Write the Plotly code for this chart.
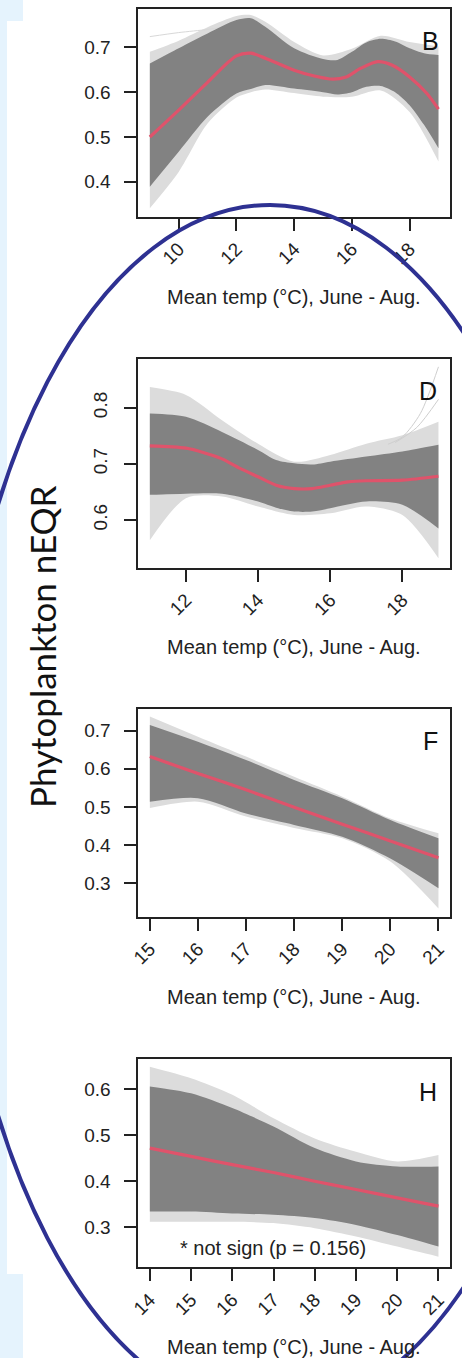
import plotly.graph_objects as go

W, H = 462, 1358

# ---------------- data ----------------
# Panel B
B_red_x = [9, 10, 11, 12, 12.5, 13, 14, 14.7, 15.35, 15.8, 16.3, 16.9, 17.4, 18, 18.6, 19]
B_red_y = [0.500, 0.560, 0.622, 0.681, 0.687, 0.676, 0.649, 0.636, 0.629, 0.634, 0.653, 0.668, 0.660, 0.634, 0.597, 0.562]
B_core_x = [9, 10, 11, 12, 12.5, 13, 14, 15, 15.5, 16, 16.5, 17, 17.5, 18, 18.5, 19]
B_core_hi = [0.664, 0.698, 0.731, 0.761, 0.765, 0.746, 0.698, 0.674, 0.672, 0.690, 0.711, 0.719, 0.713, 0.698, 0.687, 0.683]
B_core_lo = [0.389, 0.467, 0.545, 0.597, 0.607, 0.616, 0.608, 0.600, 0.595, 0.600, 0.612, 0.614, 0.600, 0.571, 0.527, 0.475]
B_fr_x = [9, 10, 11, 12, 12.5, 13, 14, 15, 16, 17, 18, 19]
B_fr_hi = [0.690, 0.715, 0.745, 0.770, 0.772, 0.757, 0.712, 0.682, 0.697, 0.726, 0.712, 0.702]
B_fr_lo = [0.341, 0.422, 0.530, 0.588, 0.600, 0.606, 0.598, 0.590, 0.590, 0.604, 0.556, 0.445]
B_out_x = [9, 10, 11, 11.5]
B_out_y = [0.724, 0.733, 0.740, 0.745]

# Panel D
D_red_x = [11, 12, 12.5, 13, 13.5, 14, 14.5, 15, 15.5, 16, 16.5, 17, 18, 19]
D_red_y = [0.732, 0.728, 0.720, 0.709, 0.692, 0.677, 0.662, 0.656, 0.656, 0.662, 0.668, 0.670, 0.671, 0.678]
D_core_x = [11, 12, 13, 14, 14.5, 15, 15.5, 16, 17, 18, 19]
D_core_hi = [0.790, 0.784, 0.757, 0.725, 0.707, 0.701, 0.699, 0.704, 0.713, 0.722, 0.734]
D_core_lo = [0.645, 0.647, 0.647, 0.633, 0.622, 0.615, 0.615, 0.621, 0.633, 0.627, 0.585]
D_fr_x = [11, 12, 13, 14, 15, 16, 17, 18, 19]
D_fr_hi = [0.837, 0.823, 0.778, 0.736, 0.704, 0.716, 0.736, 0.751, 0.775]
D_fr_lo = [0.564, 0.639, 0.642, 0.624, 0.609, 0.612, 0.624, 0.609, 0.532]
D_out1_x = [17.6, 18, 18.5, 19]
D_out1_y = [0.735, 0.748, 0.790, 0.873]
D_out2_x = [17.8, 18.4, 19]
D_out2_y = [0.738, 0.765, 0.815]

# Panel F
F_x = [15, 16, 17, 18, 19, 20, 21]
F_red = [0.632, 0.588, 0.545, 0.499, 0.455, 0.411, 0.367]
F_core_hi = [0.715, 0.671, 0.623, 0.571, 0.523, 0.466, 0.418]
F_core_lo = [0.514, 0.523, 0.483, 0.453, 0.422, 0.365, 0.287]
F_fr_hi = [0.737, 0.684, 0.632, 0.579, 0.527, 0.470, 0.431]
F_fr_lo = [0.497, 0.514, 0.475, 0.445, 0.418, 0.357, 0.234]

# Panel H
H_x = [14, 15, 16, 17, 18, 19, 20, 21]
H_red = [0.472, 0.454, 0.436, 0.419, 0.400, 0.382, 0.364, 0.346]
H_core_hi = [0.606, 0.591, 0.559, 0.519, 0.472, 0.443, 0.432, 0.432]
H_core_lo = [0.334, 0.334, 0.330, 0.327, 0.320, 0.305, 0.283, 0.258]
H_fr_hi = [0.649, 0.624, 0.588, 0.537, 0.493, 0.464, 0.443, 0.457]
H_fr_lo = [0.312, 0.312, 0.312, 0.309, 0.298, 0.280, 0.258, 0.236]

# ticks
B_xticks = [10, 12, 14, 16, 18]
D_xticks = [12, 14, 16, 18]
F_xticks = [15, 16, 17, 18, 19, 20, 21]
H_xticks = [14, 15, 16, 17, 18, 19, 20, 21]
B_yticks = [0.4, 0.5, 0.6, 0.7]
D_yticks = [0.6, 0.7, 0.8]
F_yticks = [0.3, 0.4, 0.5, 0.6, 0.7]
H_yticks = [0.3, 0.4, 0.5, 0.6]

panel_letters = ["B", "D", "F", "H"]
xtitle = "Mean temp (°C), June - Aug."
ytitle = "Phytoplankton nEQR"
note = "* not sign (p = 0.156)"

# ---------------- styling / layout ----------------
RED = "#DF536B"
CORE = "#828282"
FRINGE = "#dcdcdc"
AX = "#222222"
FONT = "Liberation Sans, Arial, sans-serif"

box_left, box_right = 138.3, 450.0
boxes = [(9.3, 216.7), (359.0, 567.7), (709.3, 916.7), (1059.3, 1267.3)]
xranges = [[8.6, 19.4], [10.68, 19.32], [14.76, 21.24], [13.72, 21.28]]
yranges = [[0.322, 0.785], [0.515, 0.887], [0.2124, 0.756], [0.213, 0.665]]

def px(x):
    return x / W

def py(y):
    return 1 - y / H

fig = go.Figure()

def band(xs, hi, lo, color, i):
    xa, ya = ("x" if i == 1 else f"x{i}"), ("y" if i == 1 else f"y{i}")
    fig.add_trace(go.Scatter(x=xs, y=hi, mode="lines", line=dict(width=0, shape="spline", smoothing=0.8),
                             hoverinfo="skip", showlegend=False, xaxis=xa, yaxis=ya))
    fig.add_trace(go.Scatter(x=xs, y=lo, mode="lines", line=dict(width=0, shape="spline", smoothing=0.8),
                             fill="tonexty", fillcolor=color, hoverinfo="skip", showlegend=False,
                             xaxis=xa, yaxis=ya))

def line(xs, ys, color, width, i):
    xa, ya = ("x" if i == 1 else f"x{i}"), ("y" if i == 1 else f"y{i}")
    fig.add_trace(go.Scatter(x=xs, y=ys, mode="lines",
                             line=dict(color=color, width=width, shape="spline", smoothing=0.8),
                             hoverinfo="skip", showlegend=False, xaxis=xa, yaxis=ya))

# B
band(B_fr_x, B_fr_hi, B_fr_lo, FRINGE, 1)
line(B_out_x, B_out_y, "#d8d8d8", 1, 1)
band(B_core_x, B_core_hi, B_core_lo, CORE, 1)
line(B_red_x, B_red_y, RED, 3.2, 1)
# D
band(D_fr_x, D_fr_hi, D_fr_lo, FRINGE, 2)
line(D_out1_x, D_out1_y, "#cfcfcf", 1, 2)
line(D_out2_x, D_out2_y, "#cfcfcf", 1, 2)
band(D_core_x, D_core_hi, D_core_lo, CORE, 2)
line(D_red_x, D_red_y, RED, 3.2, 2)
# F
band(F_x, F_fr_hi, F_fr_lo, FRINGE, 3)
band(F_x, F_core_hi, F_core_lo, CORE, 3)
line(F_x, F_red, RED, 3.2, 3)
# H
band(H_x, H_fr_hi, H_fr_lo, FRINGE, 4)
band(H_x, H_core_hi, H_core_lo, CORE, 4)
line(H_x, H_red, RED, 3.2, 4)

xticks = [B_xticks, D_xticks, F_xticks, H_xticks]
yticks = [B_yticks, D_yticks, F_yticks, H_yticks]

layout = dict(
    template="none",
    width=W, height=H, margin=dict(l=0, r=0, t=0, b=0, pad=0, autoexpand=False),
    paper_bgcolor="white", plot_bgcolor="white", showlegend=False,
    font=dict(family=FONT, color=AX),
)
for i in range(4):
    n = i + 1
    top, bot = boxes[i]
    xk = "xaxis" if n == 1 else f"xaxis{n}"
    yk = "yaxis" if n == 1 else f"yaxis{n}"
    common = dict(showgrid=False, zeroline=False, showline=True, mirror=True, automargin=False,
                  linecolor=AX, linewidth=1.8, ticks="outside", ticklen=12,
                  tickwidth=1.5, tickcolor=AX,
                  tickfont=dict(family=FONT, size=19, color=AX))
    layout[xk] = dict(common, domain=[px(box_left), px(box_right)], range=xranges[i],
                      tickvals=xticks[i], ticktext=[str(v) for v in xticks[i]],
                      tickangle=-45, anchor="y" if n == 1 else f"y{n}")
    layout[yk] = dict(common, domain=[py(bot), py(top)], range=yranges[i],
                      tickvals=yticks[i], ticktext=[f"{v:.1f}" for v in yticks[i]],
                      tickangle=-90 if n == 2 else 0,
                      ticklabelstandoff=10,
                      anchor="x" if n == 1 else f"x{n}")
fig.update_layout(**layout)

annotations = []
letter_pos = [(430, 41), (428, 391), (430, 741), (428, 1092)]
for (lx, ly), t in zip(letter_pos, panel_letters):
    annotations.append(dict(x=px(lx), y=py(ly), xref="paper", yref="paper", text=t, showarrow=False,
                            xanchor="center", yanchor="middle",
                            font=dict(family=FONT, size=25, color="#111")))
for ty in [297, 647, 997, 1347]:
    annotations.append(dict(x=px(294), y=py(ty), xref="paper", yref="paper", text=xtitle, showarrow=False,
                            xanchor="center", yanchor="middle",
                            font=dict(family=FONT, size=20, color=AX)))
annotations.append(dict(x=px(273), y=py(1248), xref="paper", yref="paper", text=note, showarrow=False,
                        xanchor="center", yanchor="middle", font=dict(family=FONT, size=20, color=AX)))
annotations.append(dict(x=px(42), y=py(647), xref="paper", yref="paper", text=ytitle, showarrow=False,
                        textangle=-90, xanchor="center", yanchor="middle",
                        font=dict(family="Lato, Noto Sans, sans-serif", size=35, color="#111")))

LB = "#E5F3FD"
shapes = [
    dict(type="rect", xref="paper", yref="paper", x0=0, x1=px(7), y0=0, y1=1,
         fillcolor=LB, line=dict(width=0), layer="below"),
    dict(type="rect", xref="paper", yref="paper", x0=0, x1=px(23), y0=py(21), y1=1,
         fillcolor=LB, line=dict(width=0), layer="below"),
    dict(type="rect", xref="paper", yref="paper", x0=0, x1=px(23), y0=0, y1=py(1274),
         fillcolor=LB, line=dict(width=0), layer="below"),
    dict(type="circle", xref="paper", yref="paper",
         x0=px(270 - 315), x1=px(270 + 315), y0=py(810 + 605), y1=py(810 - 605),
         line=dict(color="#2E3192", width=4), fillcolor="rgba(0,0,0,0)", layer="above"),
]
fig.update_layout(annotations=annotations, shapes=shapes)

fig.write_html(
    "out.html",
    config={"displayModeBar": False},
    post_script=(
        "document.documentElement.style.margin='0';document.documentElement.style.padding='0';"
        "document.documentElement.style.overflow='hidden';"
        "document.body.style.margin='0';document.body.style.padding='0';"
        "document.body.style.overflow='hidden';"
        "var d=document.getElementById('{plot_id}');d.style.position='absolute';"
        "d.style.left='0px';d.style.top='0px';"
    ),
)
